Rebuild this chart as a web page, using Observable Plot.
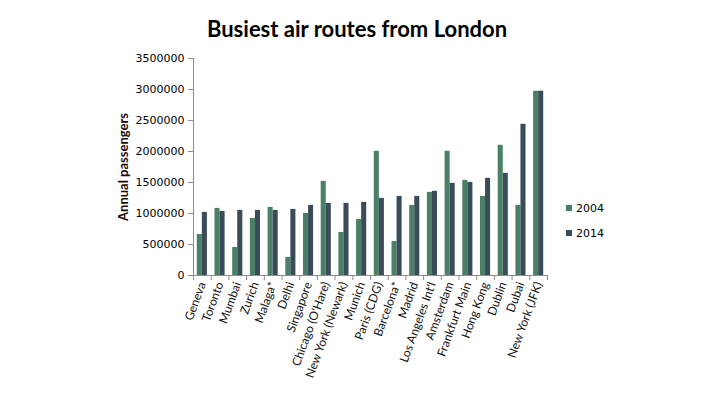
<!DOCTYPE html>
<html>
<head>
<meta charset="utf-8">
<script src="https://cdn.jsdelivr.net/npm/d3@7"></script>
<script src="https://cdn.jsdelivr.net/npm/@observablehq/plot@0.6"></script>
<style>
  html, body { margin: 0; padding: 0; background: #fff; }
  #wrap { position: relative; width: 720px; height: 400px; overflow: hidden; }
  #title { position: absolute; left: 0; width: 714px; top: 15px; text-align: center;
           font-family: Lato, "Open Sans", sans-serif; font-weight: bold; font-size: 22px; color: #000; }
  #legend { position: absolute; left: 566px; top: 201px; font-family: "DejaVu Sans", sans-serif; font-size: 11px; color: #000; }
  #legend .item { display: flex; align-items: center; height: 14px; margin-bottom: 11px; }
  #legend .sw { width: 6px; height: 6px; margin-right: 4px; }
  #chart { position: absolute; left: 0; top: 0; }
</style>
</head>
<body>
<div id="wrap">
  <div id="chart"></div>
  <div id="title">Busiest air routes from London</div>
  <div id="legend"></div>
</div>
<script>
const cities = ["Geneva","Toronto","Mumbai","Zurich","Malaga*","Delhi","Singapore","Chicago (O'Hare)","New York (Newark)","Munich","Paris (CDG)","Barcelona*","Madrid","Los Angeles Int'l","Amsterdam","Frankfurt Main","Hong Kong","Dublin","Dubai","New York (JFK)"];
const series = ["2004","2014"];
const values2004 = [662000,1082000,452000,921000,1098000,291000,1001000,1518000,695000,905000,2003000,549000,1131000,1341000,2003000,1535000,1276000,2100000,1131000,2972000];
const values2014 = [1018000,1034000,1050000,1050000,1050000,1066000,1131000,1163000,1163000,1179000,1244000,1276000,1276000,1357000,1486000,1502000,1567000,1648000,2439000,2972000];
const yTicks = [0,500000,1000000,1500000,2000000,2500000,3000000,3500000];
const colors = ["#4a8066","#3a4b5a"];

const data = [];
cities.forEach((c, i) => {
  data.push({city: c, year: series[0], value: values2004[i]});
  data.push({city: c, year: series[1], value: values2014[i]});
});

const W = 720, H = 400;
const mL = 193, mR = 173, mT = 58, mB = 125;
const bw = (W - mL - mR) / cities.length;
const w = bw / 3.5; // gap width 150%

const barFor = (k) => Plot.barY(data.filter(d => d.year === series[k]), {
  x: "city", y: "value", fill: colors[k],
  insetLeft: k === 0 ? 0.75 * w : 1.75 * w,
  insetRight: k === 0 ? 1.75 * w : 0.75 * w
});

const axisColor = "#8c8c8c";
const first = cities[0], last = cities[cities.length - 1];

const chart = Plot.plot({
  width: W, height: H,
  marginLeft: mL, marginRight: mR, marginTop: mT, marginBottom: mB,
  style: {fontFamily: "Lato, sans-serif", background: "transparent"},
  x: {domain: cities, padding: 0, round: false, label: null},
  y: {domain: [0, 3500000], label: null},
  marks: [
    barFor(0),
    barFor(1),
    Plot.ruleY([0], {stroke: axisColor}),
    Plot.ruleX(cities, {x: d => d, y1: 0, y2: 0, insetBottom: -5, dx: -bw / 2, stroke: axisColor}),
    Plot.ruleX([last], {x: d => d, y1: 0, y2: 0, insetBottom: -5, dx: bw / 2, stroke: axisColor}),
    Plot.ruleX([first], {x: d => d, y1: 0, y2: 3500000, dx: -bw / 2, stroke: axisColor}),
    Plot.axisY({ticks: yTicks, tickFormat: d => String(d), tickSize: 5, tickPadding: 4,
      stroke: axisColor, fill: "#000", fontSize: 11, fontFamily: "DejaVu Sans, sans-serif"}),
    Plot.axisX({tickSize: 0, tickRotate: -70, tickPadding: 7, fontSize: 12, fill: "#111", label: null}),
    Plot.text(["Annual passengers"], {frameAnchor: "left", dx: -70, rotate: -90, textAnchor: "middle",
      fontWeight: "bold", fontSize: 13, fill: "#1a0800", fontFamily: "Lato, sans-serif"})
  ]
});
document.getElementById("chart").appendChild(chart);

const legend = document.getElementById("legend");
series.forEach((s, k) => {
  const item = document.createElement("div");
  item.className = "item";
  item.innerHTML = `<span class="sw" style="background:${colors[k]}"></span><span>${s}</span>`;
  legend.appendChild(item);
});
</script>
</body>
</html>
